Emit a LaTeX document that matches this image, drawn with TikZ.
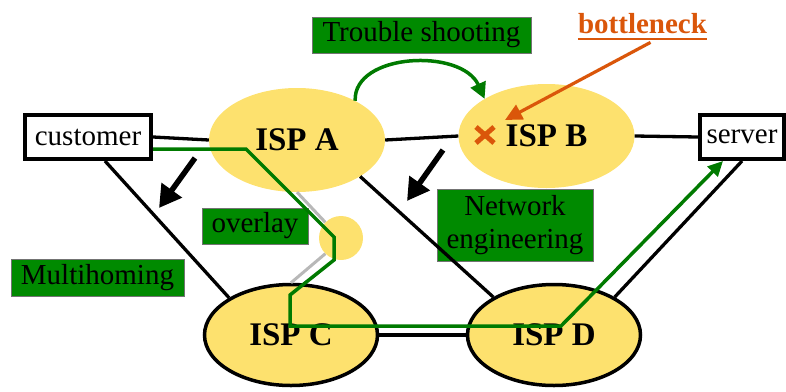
\documentclass[tikz,border=0pt]{standalone}
\usepackage{fontspec}
\setmainfont{Liberation Serif}
\usetikzlibrary{shapes.geometric,arrows.meta}
\definecolor{ispyellow}{RGB}{253,225,110}
\definecolor{tagfill}{RGB}{0,138,0}
\definecolor{pathgreen}{RGB}{0,122,0}
\definecolor{bnorange}{RGB}{218,86,10}

\begin{document}
\begin{tikzpicture}[x=1pt, y=-1pt, font=\rmfamily,
	isp/.style={
		ellipse, fill=ispyellow, minimum width=176pt, minimum height=104pt,
		inner sep=0pt, font=\fontsize{33}{36}\selectfont\bfseries
	},
	ispline/.style={isp, draw, line width=3.5pt, minimum width=173pt, minimum height=101pt},
	host/.style={draw, line width=4pt, rectangle, minimum height=44pt, inner sep=0pt, font=\fontsize{29}{32}\selectfont},
	tag/.style={fill=tagfill, draw=black!55, line width=0.6pt, inner sep=0pt, align=center, font=\fontsize{29}{33}\selectfont},
	link/.style={line width=3.3pt},
	olink/.style={line width=3pt, black!28},
	gpath/.style={pathgreen, line width=3.5pt, -{Triangle[length=15pt,width=14pt]}},
	tsarr/.style={pathgreen, line width=3.5pt, -{Triangle[length=16pt,width=16pt]}},
	bnarr/.style={bnorange, line width=3.2pt, -{Triangle[length=17pt,width=16pt]}},
	bigarr/.style={line width=5.5pt, -{Triangle[length=22pt,width=24pt]}},
	]
	\useasboundingbox (0,0) rectangle (786,391);
	
	\node[isp]      (ispA) at (297,140)   {ISP A};
	\node[isp]      (ispB) at (546.5,136) {ISP B};
	\node[ispline]  (ispC) at (291,335)   {ISP C};
	\node[ispline]  (ispD) at (554,335)   {ISP D};
	\node[circle, fill=ispyellow, minimum size=44pt, inner sep=0pt] (relay) at (341,238) {};
	
	\node[host, minimum width=126pt] (customer) at (88,137)  {customer};
	\node[host, minimum width=84pt]  (server)   at (742,137) {server};
	
	\node[tag, minimum width=219pt, minimum height=36pt] (trouble)  at (421.5,35)  {Trouble shooting};
	\node[tag, minimum width=106pt, minimum height=36pt] (overlay)  at (255,226)   {overlay};
	\node[tag, minimum width=173pt, minimum height=37pt] (multi)    at (97.5,277.5) {Multihoming};
	\node[tag, minimum width=156pt, minimum height=72pt] (neteng)   at (515,225)   {Network\\engineering};
	
	\node[inner sep=0pt, text=bnorange, font=\fontsize{29}{32}\selectfont\bfseries] (bneck) at (642.5,24) {bottleneck};
	\draw[bnorange, line width=2pt] ([yshift=-5pt]bneck.base west) -- ([yshift=-5pt]bneck.base east);
	
	\draw[link] (customer.east) -- (ispA.west);
	\draw[link] (ispA.east) -- (ispB.west);
	\draw[link] (ispB.east) -- (server.west);
	\draw[link] (ispC.east) -- (ispD.west);
	\draw[link] ([xshift=17pt]customer.south) -- (ispC.149);
	\draw[link] (ispA.-30) -- (ispD.148);
	\draw[link] (server.south) -- (ispD.32);
	
	\draw[olink] (ispA.south) -- (relay.135);
	\draw[olink] (relay.225) -- (ispC.north);
	
	\coordinate (arrAs) at (195,158);
	\coordinate (arrAe) at (159,208);
	\coordinate (arrBs) at (443,150);
	\coordinate (arrBe) at (407,201);
	\draw[bigarr] (arrAs) -- (arrAe);
	\draw[bigarr] (arrBs) -- (arrBe);
	
	\draw[tsarr] (ispA.34) .. controls +(-2,-48) and +(-23,-51) .. (ispB.149);
	
	\coordinate (hit) at (505,120);
	\draw[bnarr] ([xshift=8pt,yshift=-8pt]bneck.south) -- (hit);
	\coordinate (cross) at (485,135);
	\draw[bnorange, line width=5pt] ([shift={(-9pt,8pt)}]cross) -- ([shift={(9pt,-8pt)}]cross);
	\draw[bnorange, line width=5pt] ([shift={(-9pt,-8pt)}]cross) -- ([shift={(9pt,8pt)}]cross);
	
	\draw[gpath] ([yshift=-12pt]customer.east) -- (246,149) -- (334,237) -- (334,260)
		-- (290,295) -- (290,326) -- (561,326) -- ([xshift=-19pt]server.south);
	
\end{tikzpicture}
\end{document}
